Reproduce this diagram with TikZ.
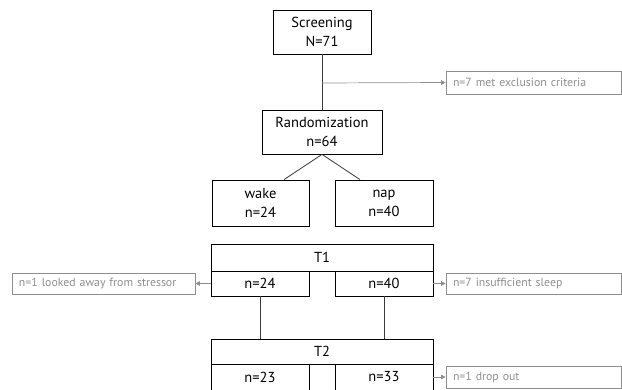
\documentclass[tikz,border=0pt]{standalone}
\usepackage{fontspec}
\setmainfont{PT Sans}
\usetikzlibrary{arrows.meta}
\definecolor{exgrey}{HTML}{8E8E8E}
\definecolor{lngrey}{HTML}{3A3A3A}
\begin{document}
\begin{tikzpicture}[x=1pt,y=-1pt,
  mainbox/.style={draw=black,line width=0.8pt,inner sep=0pt,align=center,font=\fontsize{14.5}{19}\selectfont},
  exbox/.style={draw=exgrey,line width=0.7pt,inner xsep=7pt,inner ysep=0pt,align=left,text=exgrey,font=\fontsize{11.8}{13}\selectfont,text width=161pt},
  conn/.style={draw=lngrey,line width=0.8pt},
  exarrow/.style={draw=exgrey,line width=0.7pt,-{Triangle[length=4.5pt,width=4.5pt]}}]
\clip (0,0) rectangle (622,390);
\useasboundingbox (0,0) rectangle (622,390);
% main flow
\node[mainbox,minimum width=98pt,minimum height=44pt] (screen) at (322,32) {Screening\\N=71};
\node[exbox,minimum height=23pt] (excl1) at (533.5,82.5) {n=7 met exclusion criteria};
\node[mainbox,minimum width=120pt,minimum height=44pt] (rand) at (322,132) {Randomization\\n=64};
\node[mainbox,minimum width=97pt,minimum height=46pt] (wake) at (260.5,203) {wake\\n=24};
\node[mainbox,minimum width=98pt,minimum height=46pt] (nap) at (384,203) {nap\\n=40};
% T1
\node[mainbox,minimum width=222pt,minimum height=27pt] (t1) at (322,257.5) {T1};
\node[mainbox,minimum width=98pt,minimum height=25pt] (n24) at (260,283.5) {n=24};
\node[mainbox,minimum width=98pt,minimum height=25pt] (n40) at (384,283.5) {n=40};
\node[exbox,text width=169pt,minimum height=21pt] (excl2) at (103.5,283.5) {n=1 looked away from stressor};
\node[exbox,minimum height=21pt] (excl3) at (533.5,283.5) {n=7 insufficient sleep};
% T2
\node[mainbox,minimum width=222pt,minimum height=25pt] (t2) at (322,351.5) {T2};
\node[mainbox,minimum width=98pt,minimum height=26pt] (n23) at (260,377) {n=23};
\node[mainbox,minimum width=98pt,minimum height=26pt] (n33) at (384,377) {n=33};
\node[exbox,minimum height=22pt] (excl4) at (533.5,377) {n=1 drop out};
% connectors
\coordinate (br) at (322,83);
\draw[conn] (screen.south) -- (rand.north);
\draw[exarrow] (br) -- (excl1.west);
\draw[conn] (rand.south) -- ([xshift=23.5pt]wake.north);
\draw[conn] (rand.south) -- ([xshift=-24pt]nap.north);
\draw[conn] (n24.south) -- (n24.south |- t2.north);
\draw[conn] (n40.south) -- (n40.south |- t2.north);
\draw[exarrow] (n24.west) -- (excl2.east);
\draw[exarrow] (n40.east) -- (excl3.west);
\draw[exarrow] (n33.east) -- (n33.east -| excl4.west);
\end{tikzpicture}
\end{document}
